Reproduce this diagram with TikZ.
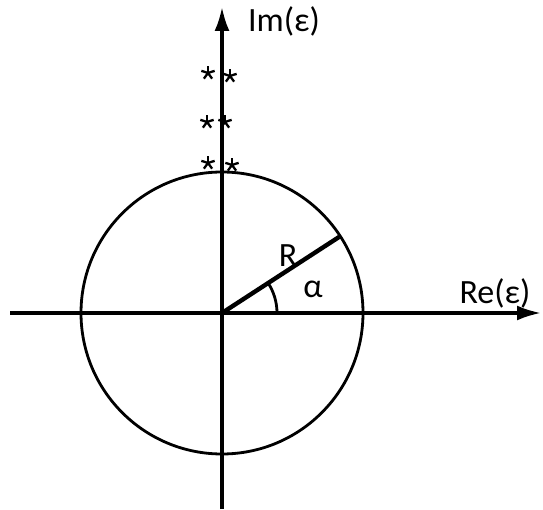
\documentclass[tikz,border=0pt]{standalone}
\usepackage{fontspec}
\setmainfont{Carlito}
\usetikzlibrary{arrows.meta,calc}
\tikzset{
  axis/.style={line width=3.2pt,-{Latex[length=24pt,width=15pt]}},
  circ/.style={line width=2.8pt},
  rad/.style={line width=4.4pt},
  lbl/.style={inner sep=0pt,font=\fontsize{34}{34}\selectfont},
  astr/.style={line width=2.3pt}
}
\newcommand\mystar[1]{\foreach \k in {0,72,...,288}{\draw[astr] (#1) -- ++(90+\k:7pt);}}
\begin{document}
\begin{tikzpicture}[x=1pt,y=1pt]
\useasboundingbox (0,0) rectangle (543,509);
\coordinate (O) at (222,196);
\coordinate (xl) at (10,196);
\coordinate (xr) at (541,196);
\coordinate (yb) at (222,0);
\coordinate (yt) at (222,502);
\draw[axis] (xl) -- (xr);
\draw[axis] (yb) -- (yt);
\draw[circ] (O) circle[radius=141];
\coordinate (P) at ($(O)+(33:140)$);
\draw[rad] (O) -- (P);
\draw[circ] ($(O)+(55,0)$) arc[start angle=0,end angle=33,radius=55];
\node[lbl] (alpha) at (313,220) {α};
\node[lbl] (R) at (288,253) {R};
\node[lbl] (im) at (284,488) {Im(ε)};
\node[lbl] (re) at (495,216) {Re(ε)};
\mystar{208,436}
\mystar{230,433}
\mystar{207,387}
\mystar{225,387}
\mystar{208,346}
\mystar{232,344}
\end{tikzpicture}
\end{document}
